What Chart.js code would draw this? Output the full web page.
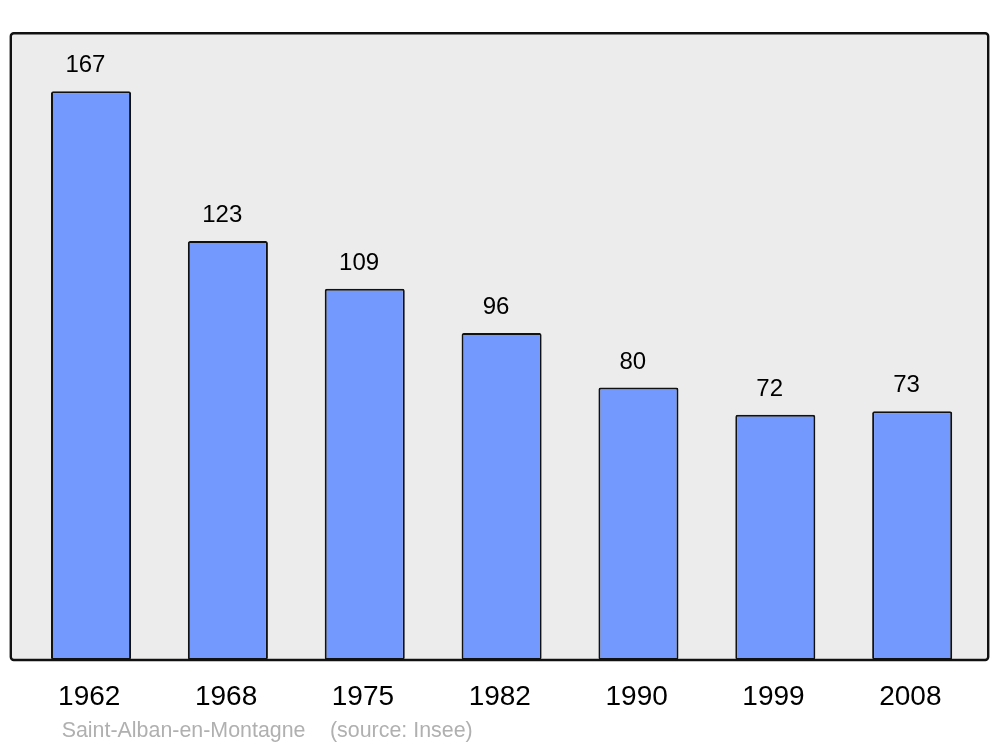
<!DOCTYPE html>
<html>
<head>
<meta charset="utf-8">
<script src="https://cdn.jsdelivr.net/npm/chart.js@4.4.0/dist/chart.umd.min.js"></script>
<style>
  html, body { margin: 0; padding: 0; background: #fff; }
  #wrap { width: 1000px; height: 747px; }
</style>
</head>
<body>
<div id="wrap"><canvas id="chart" width="1000" height="747"></canvas></div>
<script>
// population by census year
const years = ['1962', '1968', '1975', '1982', '1990', '1999', '2008'];
const population = [167, 123, 109, 96, 80, 72, 73];
const yMin = 0;
const yMax = 184;
const commune = 'Saint-Alban-en-Montagne';
const sourceNote = '(source: Insee)';

const FONT = '"Liberation Sans", Arial, sans-serif';

// grey frame behind the bars, plus the text around it
const framePlugin = {
    id: 'frame',
    beforeDatasetsDraw(chart) {
        const { ctx, chartArea: a } = chart;
        ctx.save();
        ctx.fillStyle = '#ececec';
        ctx.beginPath();
        ctx.roundRect(a.left - 11.8, a.top, (a.right + 7.6) - (a.left - 11.8), a.bottom - a.top, 3);
        ctx.fill();
        ctx.restore();
    },
    afterDatasetsDraw(chart) {
        const { ctx, chartArea: a } = chart;
        const meta = chart.getDatasetMeta(0);
        ctx.save();
        ctx.strokeStyle = '#111';
        ctx.lineWidth = 2.4;
        ctx.beginPath();
        ctx.roundRect(a.left - 11.8, a.top, (a.right + 7.6) - (a.left - 11.8), a.bottom - a.top, 3);
        ctx.stroke();

        // values above bars
        ctx.fillStyle = '#000';
        ctx.textAlign = 'center';
        ctx.textBaseline = 'alphabetic';
        ctx.font = '24px ' + FONT;
        meta.data.forEach((bar, i) => {
            ctx.fillText(String(population[i]), bar.x - 5.6, bar.y - 19);
        });

        // year labels
        ctx.font = '28px ' + FONT;
        const xs = chart.scales.x;
        years.forEach((y, i) => {
            ctx.fillText(y, xs.getPixelForValue(i) - 1.8, a.bottom + 45);
        });

        // footer
        ctx.textAlign = 'left';
        ctx.fillStyle = '#b0b0b0';
        ctx.font = '21.4px ' + FONT;
        ctx.fillText(commune, 61.7, a.bottom + 77);
        ctx.fillText(sourceNote, 330, a.bottom + 77);
        ctx.restore();
    }
};

new Chart(document.getElementById('chart').getContext('2d'), {
    type: 'bar',
    data: {
        labels: years,
        datasets: [{
            data: population,
            backgroundColor: '#7399ff',
            borderColor: '#111',
            borderWidth: 2,
            borderRadius: 2,
            borderSkipped: false,
            barPercentage: 0.585,
            categoryPercentage: 1
        }]
    },
    options: {
        responsive: false,
        animation: false,
        layout: { padding: { left: 22.6, right: 19.4, top: 33.3, bottom: 87 } },
        plugins: {
            legend: { display: false },
            tooltip: { enabled: false }
        },
        scales: {
            x: { display: false },
            y: { display: false, min: yMin, max: yMax }
        }
    },
    plugins: [framePlugin]
});
</script>
</body>
</html>
